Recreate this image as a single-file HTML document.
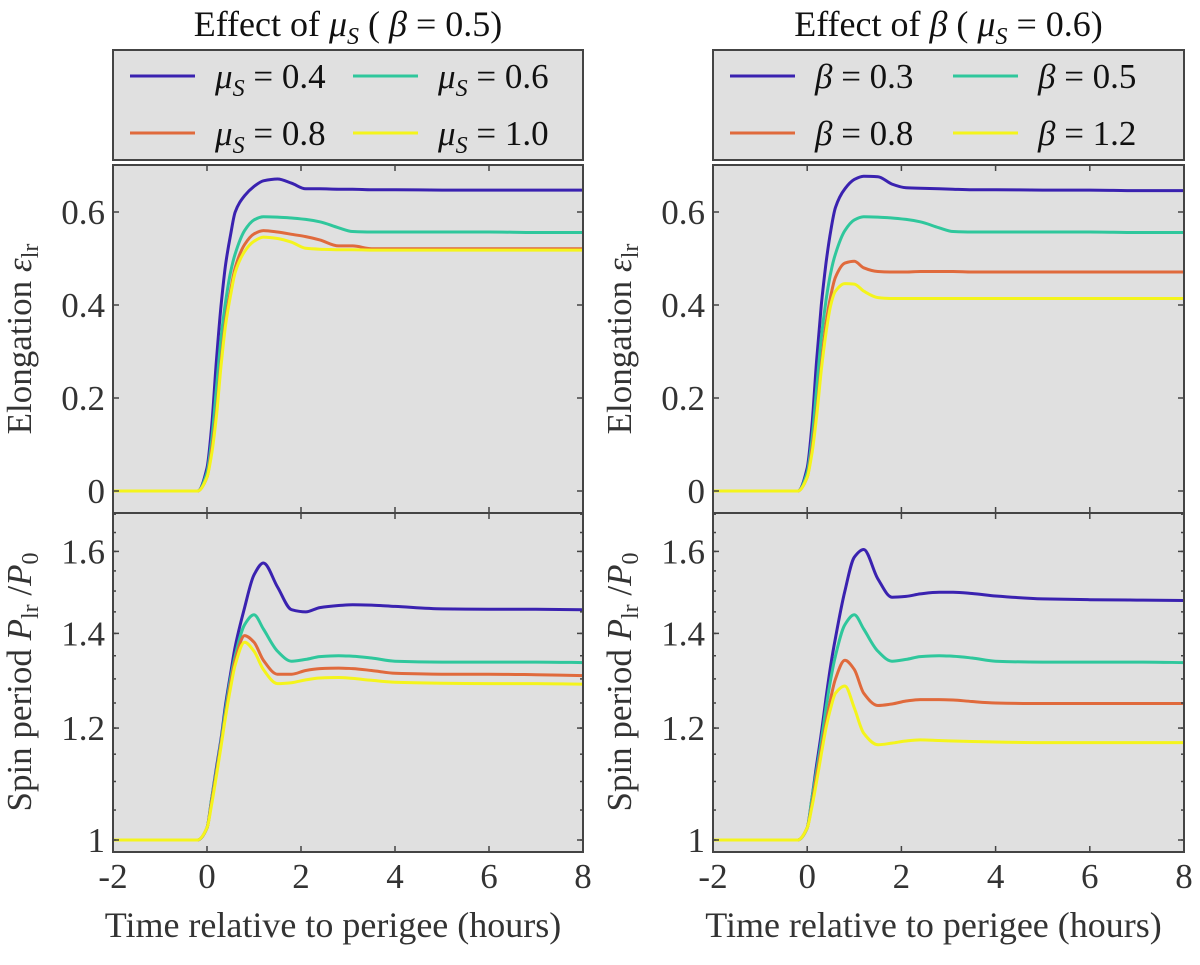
<!DOCTYPE html>
<html><head><meta charset="utf-8"><style>
body{margin:0;background:#fff}
svg, svg text{font-family:"Liberation Serif","DejaVu Serif",serif}
</style></head><body>
<svg id="fig" width="1200" height="960" xmlns="http://www.w3.org/2000/svg" font-family="Liberation Serif, DejaVu Serif, serif"></svg>
<script>
const times=[-2,-0.2,0,0.1,0.2,0.3,0.4,0.5,0.6,0.8,1.0,1.2,1.5,1.8,2.1,2.4,2.8,3.1,3.5,4,5,6,7,8];
const xTicks=[-2,0,2,4,6,8];
const elongTicks=[0,0.2,0.4,0.6];
const elongTickLabels=["0","0.2","0.4","0.6"];
const spinTicks=[1,1.2,1.4,1.6];
const spinTickLabels=["1","1.2","1.4","1.6"];
const colors=["#3a22b0","#2fc79c","#e06a3c","#f4f41c"];
const muLabels=["0.4","0.6","0.8","1.0"];
const betaLabels=["0.3","0.5","0.8","1.2"];
// Left panel: effect of mu_S
const muElong04=[0,0,0.05,0.14,0.28,0.40,0.49,0.55,0.60,0.635,0.655,0.667,0.671,0.662,0.65,0.65,0.649,0.649,0.648,0.648,0.647,0.647,0.647,0.647];
const muElong06=[0,0,0.04,0.11,0.22,0.33,0.41,0.47,0.51,0.56,0.583,0.59,0.589,0.587,0.584,0.579,0.566,0.558,0.557,0.557,0.557,0.557,0.556,0.556];
const muElong08=[0,0,0.03,0.09,0.17,0.28,0.37,0.43,0.48,0.53,0.553,0.56,0.557,0.552,0.547,0.54,0.527,0.527,0.521,0.521,0.521,0.521,0.521,0.521];
const muElong10=[0,0,0.03,0.08,0.16,0.27,0.36,0.42,0.47,0.515,0.537,0.546,0.543,0.535,0.522,0.52,0.519,0.519,0.518,0.518,0.518,0.518,0.518,0.518];
const muSpin04=[1,1,1.02,1.07,1.125,1.18,1.25,1.31,1.37,1.46,1.54,1.57,1.51,1.455,1.45,1.46,1.465,1.467,1.466,1.463,1.457,1.456,1.456,1.455];
const muSpin06=[1,1,1.02,1.07,1.12,1.175,1.24,1.3,1.35,1.42,1.443,1.41,1.36,1.338,1.342,1.348,1.35,1.349,1.345,1.338,1.336,1.336,1.336,1.335];
const muSpin08=[1,1,1.02,1.065,1.115,1.17,1.23,1.29,1.34,1.395,1.38,1.34,1.31,1.31,1.318,1.322,1.323,1.322,1.318,1.312,1.31,1.31,1.309,1.307];
const muSpin10=[1,1,1.02,1.06,1.11,1.165,1.225,1.28,1.33,1.38,1.36,1.32,1.29,1.292,1.298,1.302,1.303,1.301,1.297,1.293,1.291,1.29,1.29,1.289];
// Right panel: effect of beta
const betaElong03=[0,0,0.05,0.14,0.28,0.40,0.49,0.56,0.61,0.65,0.67,0.677,0.676,0.66,0.652,0.651,0.65,0.649,0.648,0.648,0.647,0.647,0.646,0.646];
const betaElong05=[0,0,0.04,0.11,0.22,0.33,0.41,0.47,0.51,0.56,0.583,0.59,0.589,0.587,0.584,0.579,0.566,0.558,0.557,0.557,0.557,0.557,0.556,0.556];
const betaElong08=[0,0,0.03,0.09,0.17,0.27,0.36,0.42,0.46,0.49,0.494,0.48,0.472,0.471,0.471,0.472,0.472,0.472,0.471,0.471,0.471,0.471,0.471,0.471];
const betaElong12=[0,0,0.03,0.08,0.16,0.26,0.34,0.40,0.43,0.446,0.445,0.43,0.416,0.414,0.414,0.414,0.414,0.414,0.414,0.414,0.414,0.414,0.414,0.414];
const betaSpin03=[1,1,1.02,1.07,1.13,1.19,1.26,1.33,1.39,1.5,1.585,1.605,1.53,1.485,1.487,1.493,1.497,1.497,1.494,1.488,1.481,1.479,1.478,1.477];
const betaSpin05=[1,1,1.02,1.07,1.12,1.175,1.24,1.3,1.35,1.42,1.443,1.41,1.36,1.338,1.342,1.348,1.35,1.349,1.345,1.338,1.336,1.336,1.336,1.335];
const betaSpin08=[1,1,1.02,1.06,1.11,1.16,1.21,1.26,1.3,1.34,1.32,1.27,1.245,1.248,1.254,1.257,1.257,1.256,1.253,1.25,1.249,1.249,1.249,1.249];
const betaSpin12=[1,1,1.02,1.055,1.1,1.15,1.2,1.24,1.27,1.285,1.24,1.19,1.168,1.171,1.175,1.177,1.176,1.175,1.174,1.173,1.172,1.172,1.172,1.172];

const NS="http://www.w3.org/2000/svg";
const svg=document.getElementById('fig');
const FF="Liberation Serif, DejaVu Serif, serif";
function mk(tag,attrs,parent){const e=document.createElementNS(NS,tag);for(const k in attrs)e.setAttribute(k,attrs[k]);if(tag==='text')e.setAttribute('font-family',FF);(parent||svg).appendChild(e);return e;}

const panels=[
 {x0:113,x1:583,sym:"μ",sub:"S",other:"β",otherVal:"0.5",labels:muLabels,elong:[muElong04,muElong06,muElong08,muElong10],spin:[muSpin04,muSpin06,muSpin08,muSpin10],key:"mu"},
 {x0:713,x1:1184,sym:"β",sub:"",other:"μ",otherVal:"0.6",labels:betaLabels,elong:[betaElong03,betaElong05,betaElong08,betaElong12],spin:[betaSpin03,betaSpin05,betaSpin08,betaSpin12],key:"beta"}
];
const topY0=165, topY1=513, botY0=513, botY1=852;
function ySpin(v){return 840-614*Math.log(v);}
function yElong(v){return 491-465*v;}

// monotone cubic (Fritsch-Carlson) in pixel space
function pathFrom(pts){
 const n=pts.length, dx=[], m=[], s=[];
 for(let i=0;i<n-1;i++){dx[i]=pts[i+1][0]-pts[i][0];s[i]=(pts[i+1][1]-pts[i][1])/dx[i];}
 m[0]=s[0];m[n-1]=s[n-2];
 for(let i=1;i<n-1;i++){
  if(s[i-1]*s[i]<=0)m[i]=0;
  else{const w1=2*dx[i]+dx[i-1],w2=dx[i]+2*dx[i-1];m[i]=(w1+w2)/(w1/s[i-1]+w2/s[i]);}
 }
 let d="M"+pts[0][0].toFixed(1)+","+pts[0][1].toFixed(1);
 for(let i=0;i<n-1;i++){
  const h=dx[i]/3;
  d+=" C"+(pts[i][0]+h).toFixed(1)+","+(pts[i][1]+m[i]*h).toFixed(1)+" "+(pts[i+1][0]-h).toFixed(1)+","+(pts[i+1][1]-m[i+1]*h).toFixed(1)+" "+pts[i+1][0].toFixed(1)+","+pts[i+1][1].toFixed(1);
 }
 return d;
}

panels.forEach((P,pi)=>{
 const xs=v=>P.x0+(v+2)/10*(P.x1-P.x0);
 const cx=(P.x0+P.x1)/2;
 const t=mk('text',{x:cx,y:36,'text-anchor':'middle','font-size':36,fill:'#111'});
 
 
 t.innerHTML='Effect of <tspan font-style="italic">'+P.sym+'</tspan>'+(P.sub?'<tspan font-style="italic" font-size="24" dy="8">'+P.sub+'</tspan><tspan dy="-8">  </tspan>':'  ')+' ( <tspan font-style="italic">'+P.other+'</tspan>'+(P.other==="μ"?'<tspan font-style="italic" font-size="24" dy="8">S</tspan><tspan dy="-8"> </tspan>':' ')+'= 0'+P.otherVal.slice(1)+')';
 const lg=mk('g',{});
 
 
 mk('rect',{x:P.x0,y:50,width:P.x1-P.x0,height:110,fill:'#e0e0e0',stroke:'#444','stroke-width':2},lg);
 P.labels.forEach((lab,i)=>{
  const col=i%2,row=Math.floor(i/2);
  const lx=P.x0+(col?240:17), ly=row?133:76;
  const ent=mk('g',{},lg);
  
  
  mk('line',{x1:lx,y1:ly,x2:lx+65,y2:ly,stroke:colors[i],'stroke-width':3},ent);
  const tx=mk('text',{x:lx+85,y:ly+12,'font-size':35,fill:'#111'},ent);
  tx.innerHTML='<tspan font-style="italic">'+P.sym+'</tspan>'+(P.sub?'<tspan font-style="italic" font-size="24" dy="8">'+P.sub+'</tspan><tspan dy="-8"> </tspan>':' ')+'= '+lab;
 });
 [[topY0,topY1,'elong'],[botY0,botY1,'spin']].forEach(([y0,y1,kind])=>{
  const g=mk('g',{});
  
  
  mk('rect',{x:P.x0,y:y0,width:P.x1-P.x0,height:y1-y0,fill:'#e0e0e0'},g);
  const ys=kind==='elong'?yElong:ySpin;
  const series=kind==='elong'?P.elong:P.spin;
  const clip=mk('clipPath',{id:'c'+pi+kind},g);
  mk('rect',{x:P.x0,y:y0,width:P.x1-P.x0,height:y1-y0},clip);
  series.forEach((arr,si)=>{
   const pts=times.map((tt,k)=>[xs(tt),ys(arr[k])]);
   const p=mk('path',{d:pathFrom(pts),fill:'none',stroke:colors[si],'stroke-width':3,'stroke-linejoin':'round','clip-path':'url(#c'+pi+kind+')'},g);
   
   
  });
  xTicks.forEach(v=>{
   const x=xs(v);
   mk('line',{x1:x,y1:y1,x2:x,y2:y1-6,stroke:'#444','stroke-width':1.5},g);
   mk('line',{x1:x,y1:y0,x2:x,y2:y0+6,stroke:'#444','stroke-width':1.5},g);
  });
  if(kind==='elong'){
   elongTicks.forEach((v,i)=>{
    const y=ys(v);
    mk('line',{x1:P.x0,y1:y,x2:P.x0+6,y2:y,stroke:'#444','stroke-width':1.5},g);
    mk('line',{x1:P.x1,y1:y,x2:P.x1-6,y2:y,stroke:'#444','stroke-width':1.5},g);
    const tl=mk('text',{x:P.x0-8,y:y+12,'text-anchor':'end','font-size':35,fill:'#333'},g);
    tl.textContent=elongTickLabels[i];
   });
  } else {
   for(let v=1;v<=1.70001;v+=0.05){
    const y=ys(v);
    if(y<y0)break;
    mk('line',{x1:P.x0,y1:y,x2:P.x0+3,y2:y,stroke:'#444','stroke-width':1.5},g);
    mk('line',{x1:P.x1,y1:y,x2:P.x1-3,y2:y,stroke:'#444','stroke-width':1.5},g);
   }
   spinTicks.forEach((v,i)=>{
    const y=ys(v);
    mk('line',{x1:P.x0,y1:y,x2:P.x0+6,y2:y,stroke:'#444','stroke-width':1.5},g);
    mk('line',{x1:P.x1,y1:y,x2:P.x1-6,y2:y,stroke:'#444','stroke-width':1.5},g);
    const tl=mk('text',{x:P.x0-8,y:y+12,'text-anchor':'end','font-size':35,fill:'#333'},g);
    tl.textContent=spinTickLabels[i];
   });
  }
  mk('rect',{x:P.x0,y:y0,width:P.x1-P.x0,height:y1-y0,fill:'none',stroke:'#444','stroke-width':2},g);
 });
 xTicks.forEach(v=>{
  const tl=mk('text',{x:xs(v),y:888,'text-anchor':'middle','font-size':35,fill:'#333'});
  
  
  tl.textContent=(v<0?'-':'')+Math.abs(v);
 });
 const xt=mk('text',{x:cx-15,y:937,'text-anchor':'middle','font-size':36,fill:'#333'});
 
 
 xt.textContent='Time relative to perigee (hours)';
 const yl1=P.x0-82;
 const e1=mk('text',{x:0,y:0,transform:'translate('+yl1+',339) rotate(-90)','text-anchor':'middle','font-size':35,fill:'#333'});
 
 
 e1.innerHTML='Elongation <tspan font-style="italic">ε</tspan><tspan font-size="24" dy="7">lr</tspan>';
 const e2=mk('text',{x:0,y:0,transform:'translate('+yl1+',682) rotate(-90)','text-anchor':'middle','font-size':35,fill:'#333'});
 
 
 e2.innerHTML='Spin period <tspan font-style="italic">P</tspan><tspan font-size="24" dy="7">lr</tspan><tspan dy="-7"> /</tspan><tspan font-style="italic">P</tspan><tspan font-size="24" dy="7">0</tspan>';
});
</script>
</body></html>
